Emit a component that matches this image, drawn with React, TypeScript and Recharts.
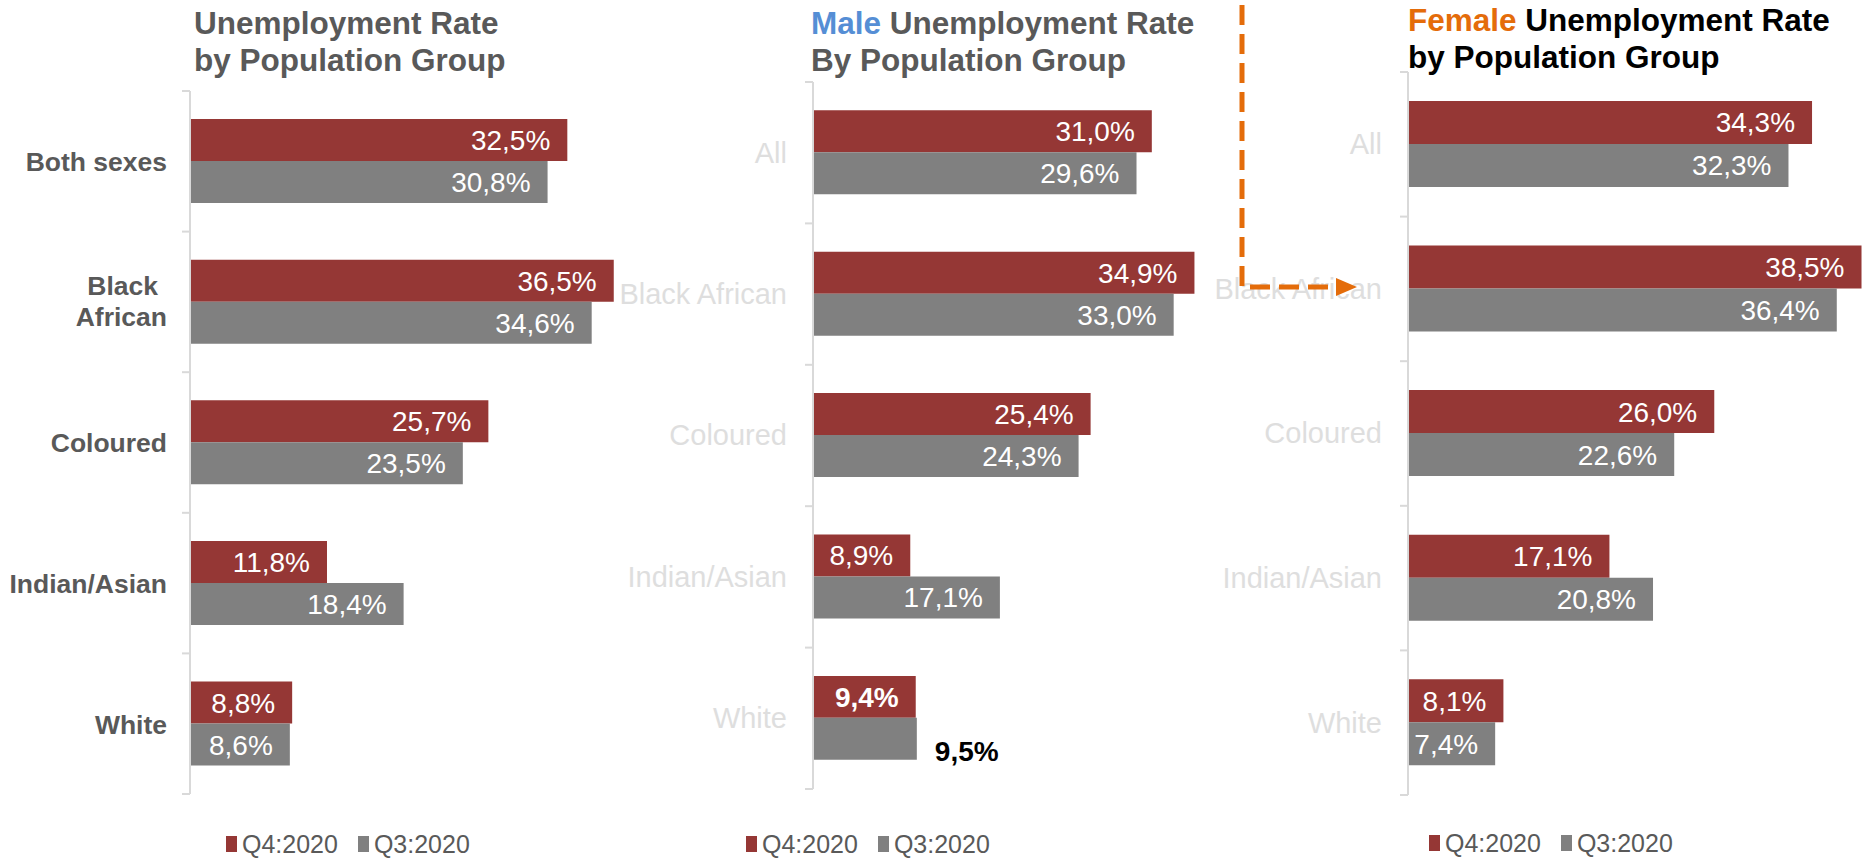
import { Bar, BarChart, LabelList, Legend, XAxis, YAxis } from "recharts";

const totalCategories = ["Both sexes", "Black African", "Coloured", "Indian/Asian", "White"];
const groupCategories = ["All", "Black African", "Coloured", "Indian/Asian", "White"];

const totalQ4 = [32.5, 36.5, 25.7, 11.8, 8.8];
const totalQ3 = [30.8, 34.6, 23.5, 18.4, 8.6];
const maleQ4 = [31.0, 34.9, 25.4, 8.9, 9.4];
const maleQ3 = [29.6, 33.0, 24.3, 17.1, 9.5];
const femaleQ4 = [34.3, 38.5, 26.0, 17.1, 8.1];
const femaleQ3 = [32.3, 36.4, 22.6, 20.8, 7.4];

const Q4_NAME = "Q4:2020";
const Q3_NAME = "Q3:2020";
const legendOrder = [Q4_NAME, Q3_NAME];
const Q4_COLOR = "#953735";
const Q3_COLOR = "#808080";
const FONT = "'Liberation Sans', Arial, sans-serif";
const H = 858;

const fmt = (v: number) => v.toFixed(1).replace(".", ",") + "%";

function rows(cats: string[], q4: number[], q3: number[]) {
  return cats.map((c, i) => ({ cat: c, q4: q4[i], q3: q3[i] }));
}

type Panel = {
  left: number;
  axisX: number; // axis position inside the chart
  top: number;
  bottom: number;
  pxPer: number;
  data: { cat: string; q4: number; q3: number }[];
  labelStyle: "bold" | "faint";
  labelGap: number;
  legendX: number;
  legendY: number;
  boldIndex?: number;
};

const panels: Panel[] = [
  {
    left: 0, axisX: 190, top: 91, bottom: 794, pxPer: 11.61,
    data: rows(totalCategories, totalQ4, totalQ3),
    labelStyle: "bold", labelGap: 23, legendX: 226, legendY: 831,
  },
  {
    left: 600, axisX: 213, top: 82, bottom: 789, pxPer: 10.93,
    data: rows(groupCategories, maleQ4, maleQ3),
    labelStyle: "faint", labelGap: 26, legendX: 746, legendY: 831, boldIndex: 4,
  },
  {
    left: 1200, axisX: 208, top: 72, bottom: 795, pxPer: 11.78,
    data: rows(groupCategories, femaleQ4, femaleQ3),
    labelStyle: "faint", labelGap: 26, legendX: 1429, legendY: 830,
  },
];

function makeTick(p: Panel) {
  const band = (p.bottom - p.top) / p.data.length;
  return (props: any) => {
    const { x, y, payload, index } = props;
    const bold = p.labelStyle === "bold";
    const tx = x - p.labelGap;
    const lines = bold && payload.value === "Black African" ? ["Black", "African"] : [payload.value];
    return (
      <g>
        <line x1={x - 8} x2={x} y1={y - band / 2} y2={y - band / 2} stroke="#d9d9d9" strokeWidth={2} />
        {index === p.data.length - 1 && (
          <line x1={x - 8} x2={x} y1={y + band / 2} y2={y + band / 2} stroke="#d9d9d9" strokeWidth={2} />
        )}
        <text
          textAnchor="end"
          fontSize={bold ? 26.5 : 29}
          fontFamily={FONT}
          fontWeight={bold ? 700 : 400}
          fill={bold ? "#595959" : "#dedede"}
        >
          {lines.length === 1 ? (
            <tspan x={tx} y={y + 10}>{lines[0]}</tspan>
          ) : (
            <>
              <tspan x={tx - 9} y={y + 9 - 15.5}>{lines[0]}</tspan>
              <tspan x={tx} y={y + 9 + 15.5}>{lines[1]}</tspan>
            </>
          )}
        </text>
      </g>
    );
  };
}

function makeValueLabel(p: Panel, series: "q4" | "q3") {
  return (props: any) => {
    const { x, y, width, height, value, index } = props;
    const emph = p.boldIndex === index;
    if (emph && series === "q3") {
      return (
        <text x={x + width + 18} y={y + height / 2 + 22} fontSize={28} fontWeight={700}
          fontFamily={FONT} fill="#000">
          {fmt(value)}
        </text>
      );
    }
    return (
      <text x={x + width - 17} y={y + height / 2 + 10} textAnchor="end" fontSize={28}
        fontWeight={emph ? 700 : 400} fontFamily={FONT} fill="#fff">
        {fmt(value)}
      </text>
    );
  };
}

function renderLegend(props: any) {
  const items = [...(props.payload || [])].sort(
    (a: any, b: any) => legendOrder.indexOf(a.value) - legendOrder.indexOf(b.value)
  );
  return (
    <div style={{ display: "flex", alignItems: "center", fontFamily: FONT, fontSize: 25, lineHeight: "26px", color: "#595959", whiteSpace: "nowrap" }}>
      {items.map((e: any) => (
        <span key={e.value} style={{ display: "flex", alignItems: "center", marginRight: 20 }}>
          <span style={{ display: "inline-block", width: 11, height: 16, background: e.color, marginRight: 5 }} />
          {e.value}
        </span>
      ))}
    </div>
  );
}

function PanelChart({ p }: { p: Panel }) {
  const width = p.axisX + 40 * p.pxPer;
  return (
    <div style={{ position: "absolute", left: p.left, top: 0 }}>
      <BarChart
        width={width}
        height={H}
        data={p.data}
        layout="vertical"
        margin={{ top: p.top, bottom: H - p.bottom, left: 0, right: 0 }}
        barCategoryGap="20%"
        barGap={0}
      >
        <XAxis type="number" domain={[0, 40]} hide />
        <YAxis
          type="category"
          dataKey="cat"
          width={p.axisX}
          axisLine={{ stroke: "#d9d9d9", strokeWidth: 2 }}
          tickLine={false}
          tickSize={0}
          tickMargin={0}
          interval={0}
          tick={makeTick(p)}
        />
        <Legend
          layout="horizontal"
          verticalAlign="middle"
          align="center"
          content={renderLegend}
          wrapperStyle={{ left: p.legendX - p.left, top: p.legendY, width: "auto" }}
        />
        <Bar dataKey="q4" name={Q4_NAME} fill={Q4_COLOR} isAnimationActive={false}>
          <LabelList dataKey="q4" content={makeValueLabel(p, "q4")} />
        </Bar>
        <Bar dataKey="q3" name={Q3_NAME} fill={Q3_COLOR} isAnimationActive={false}>
          <LabelList dataKey="q3" content={makeValueLabel(p, "q3")} />
        </Bar>
      </BarChart>
    </div>
  );
}

export default function App() {
  return (
    <div style={{ position: "absolute", left: 0, top: 0, width: 1862, height: H, overflow: "hidden", background: "#fff", fontFamily: FONT }}>
      {panels.map((p, i) => (
        <PanelChart key={i} p={p} />
      ))}
      <svg width={1862} height={H} style={{ position: "absolute", left: 0, top: 0, pointerEvents: "none" }}>
        <g fontFamily={FONT} fontWeight={700} fontSize={31.5}>
          <text x={194} y={34} fill="#595959">Unemployment Rate</text>
          <text x={194} y={71} fill="#595959">by Population Group</text>
          <text x={811} y={34} fill="#595959">
            <tspan fill="#558ED5">Male</tspan> Unemployment Rate
          </text>
          <text x={811} y={71} fill="#595959">By Population Group</text>
          <text x={1408} y={31} fill="#000">
            <tspan fill="#E46C0A">Female</tspan> Unemployment Rate
          </text>
          <text x={1408} y={68} fill="#000">by Population Group</text>
        </g>
        <path d="M1242 5 V287 H1336" fill="none" stroke="#E46C0A" strokeWidth={5} strokeDasharray="20 9" />
        <polygon points="1336,278 1357,287 1336,296" fill="#E46C0A" />
      </svg>
    </div>
  );
}
